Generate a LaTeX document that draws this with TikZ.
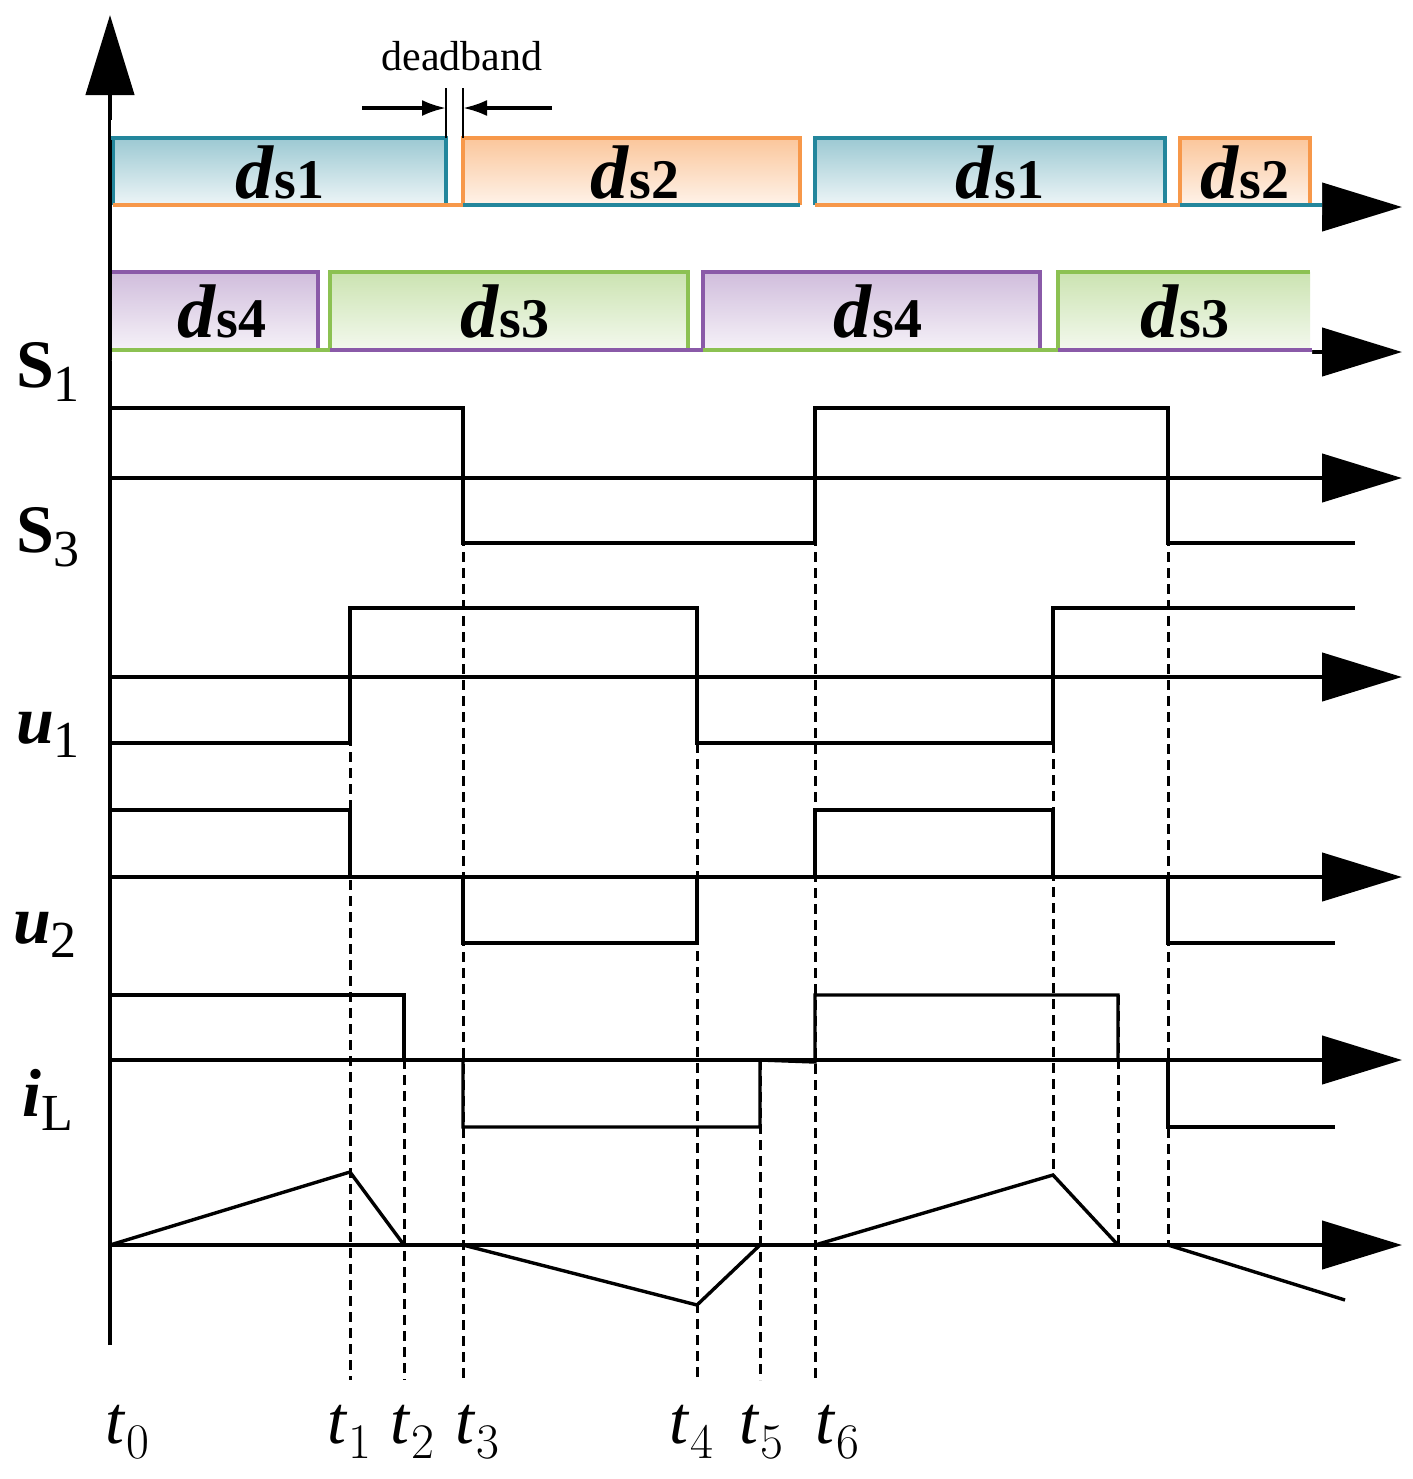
\documentclass[tikz,border=0pt]{standalone}
\usepackage{fontspec}
\setmainfont{Liberation Serif}
\usetikzlibrary{arrows.meta}
\definecolor{cT}{HTML}{23869C}\definecolor{cO}{HTML}{F7984A}
\definecolor{cP}{HTML}{8A5AA8}\definecolor{cG}{HTML}{8CC152}
\tikzset{
 ax/.style={line width=2.2pt,-{Triangle[length=40pt,width=24pt]}},
 wv/.style={line width=1.7pt},
 dsh/.style={line width=1.5pt,dash pattern=on 5pt off 3pt},
 lbl/.style={font=\fontsize{34}{34}\selectfont\bfseries},
 tl/.style={font=\fontsize{34}{34}\selectfont},
 dl/.style={font=\fontsize{38}{38}\selectfont\bfseries},
 bx/.style={line width=2pt},
}
\newcommand{\dsl}[1]{\textit{d}{\fontsize{28}{28}\selectfont s#1}}
\newcommand{\sbs}[1]{\textmd{\fontsize{26}{26}\selectfont\raisebox{-7pt}{#1}}}
\begin{document}
\begin{tikzpicture}[x=0.5pt,y=-0.5pt]
\useasboundingbox (0,0) rectangle (1413,1479);
% dashed (behind)
\draw[dsh] (350,608)--(350,1380) (404,995)--(404,1380) (463,408)--(463,1380)
 (697,743)--(697,1380) (760,1060)--(760,1380) (815,408)--(815,1380)
 (1053,743)--(1053,1175) (1118,995)--(1118,1245) (1168,408)--(1168,1245);
% axes
\draw[ax] (110,1345)--(110,15);
\foreach \y in {207,352,478,677,877,1060,1245}{\draw[ax] (110,\y)--(1402,\y);}
% boxes band 1
\fill[white] (111,120) rectangle (1322,215) (111,260) rectangle (1312,360);
\shade[top color=cT!45,bottom color=cT!8] (113,138) rectangle (446,205);
\shade[top color=cO!55,bottom color=cO!12] (463,138) rectangle (800,205);
\shade[top color=cT!45,bottom color=cT!8] (815,138) rectangle (1165,205);
\shade[top color=cO!55,bottom color=cO!12] (1180,138) rectangle (1310,205);
\draw[bx,cT] (113,205)--(113,138)--(446,138)--(446,205);
\draw[bx,cO] (463,205)--(463,138)--(800,138)--(800,205);
\draw[bx,cT] (815,205)--(815,138)--(1165,138)--(1165,205);
\draw[bx,cO] (1180,205)--(1180,138)--(1310,138)--(1310,205);
\draw[bx,cO] (113,205)--(463,205) (815,205)--(1180,205);
\draw[bx,cT] (463,205)--(800,205) (1180,205)--(1322,205);
% band 2
\shade[top color=cP!40,bottom color=cP!8] (110,272) rectangle (318,350);
\shade[top color=cG!45,bottom color=cG!10] (330,272) rectangle (688,350);
\shade[top color=cP!40,bottom color=cP!8] (703,272) rectangle (1040,350);
\shade[top color=cG!45,bottom color=cG!10] (1058,272) rectangle (1310,350);
\draw[bx,cP] (110,350)--(110,272)--(318,272)--(318,350);
\draw[bx,cG] (330,350)--(330,272)--(688,272)--(688,350);
\draw[bx,cP] (703,350)--(703,272)--(1040,272)--(1040,350);
\draw[bx,cG] (1058,350)--(1058,272)--(1310,272);
\draw[bx,cG] (110,350)--(330,350) (703,350)--(1058,350);
\draw[bx,cP] (330,350)--(703,350) (1058,350)--(1312,350);
\draw[line width=2.2pt] (110,140)--(110,360);
% ds labels
\foreach \x/\n in {280/1,1000/1}{\node[dl] at (\x,172) {\dsl{\n}};}
\foreach \x/\n in {635/2,1245/2}{\node[dl] at (\x,172) {\dsl{\n}};}
\foreach \x/\n in {222/4,878/4}{\node[dl] at (\x,311) {\dsl{\n}};}
\foreach \x/\n in {505/3,1185/3}{\node[dl] at (\x,311) {\dsl{\n}};}
% deadband
\node[font=\fontsize{21}{21}\selectfont] (db) at (462,56) {deadband};
\draw[line width=1.2pt] (446,88)--(446,138) (463,88)--(463,138);
\draw[line width=1.6pt,-{Latex[length=12pt,width=8pt]}] (362,108)--(446,108);
\draw[line width=1.6pt,-{Latex[length=12pt,width=8pt]}] (552,108)--(463,108);
% waveforms
\draw[wv] (110,408)--(463,408)--(463,543)--(815,543)--(815,408)--(1168,408)--(1168,543)--(1355,543);
\draw[wv] (110,743)--(350,743)--(350,608)--(697,608)--(697,743)--(1053,743)--(1053,608)--(1355,608);
\draw[wv] (110,810)--(350,810)--(350,877);
\draw[wv] (463,877)--(463,943)--(697,943)--(697,877);
\draw[wv] (815,877)--(815,810)--(1053,810)--(1053,877);
\draw[wv] (1168,877)--(1168,943)--(1335,943);
\draw[wv] (110,995)--(404,995)--(404,1060);
\draw[wv] (463,1060)--(463,1127)--(760,1127)--(760,1060)--(815,1062)--(815,995)--(1118,995)--(1118,1060);
\draw[wv] (1168,1060)--(1168,1127)--(1335,1127);
\draw[wv] (110,1245)--(350,1172)--(404,1245);
\draw[wv] (463,1245)--(697,1305)--(760,1245);
\draw[wv] (815,1245)--(1053,1175)--(1118,1245);
\draw[wv] (1168,1245)--(1345,1300);
% labels
\node[lbl] at (48,372) {S\sbs{1}};
\node[lbl] at (48,537) {S\sbs{3}};
\node[lbl] at (48,735) {\textit{u}\sbs{1}};
\node[lbl] at (45,935) {\textit{u}\sbs{2}};
\node[lbl] at (48,1100) {\textit{i}\sbs{L}};
\foreach \x/\n in {128/0,350/1,413/2,478/3,692/4,762/5,838/6}{\node[tl] at (\x,1432) {\textit{t}\textmd{$_\n$}};}
\end{tikzpicture}
\end{document}
